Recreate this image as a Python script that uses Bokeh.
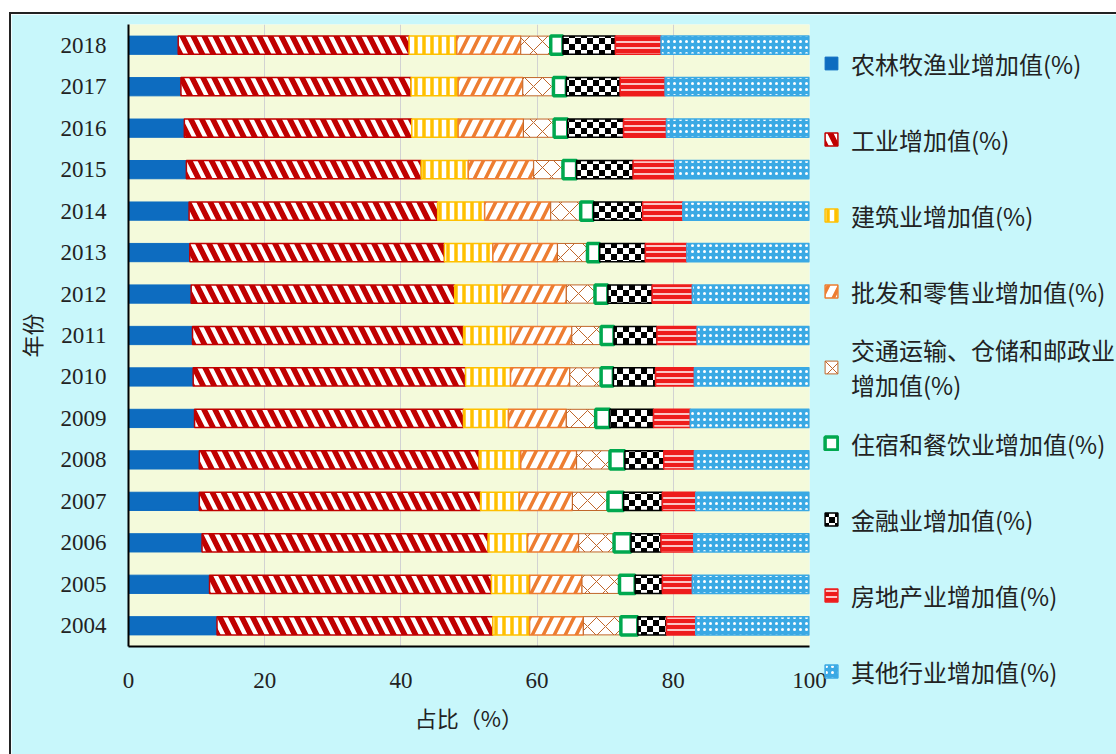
from bokeh.plotting import figure
from bokeh.models import (ColumnDataSource, FactorRange, Range1d, Legend, LegendItem,
                          CanvasTexture, FixedTicker)
from bokeh.core.properties import value
from bokeh.transform import stack
from bokeh.embed import file_html
from bokeh.resources import INLINE

# ---- data: share of value added by sector (%), 2004-2018 ----
years = [str(y) for y in range(2004, 2019)]

agri = [13.0, 11.9, 10.8, 10.4, 10.4, 9.7, 9.5, 9.4, 9.2, 9.0, 8.9, 8.5, 8.2, 7.7, 7.3]
industry = [40.5, 41.4, 42.0, 41.3, 41.1, 39.5, 40.0, 39.8, 38.7, 37.4, 36.5, 34.5, 33.4, 33.8, 33.9]
construction = [5.4, 5.6, 5.8, 5.7, 6.1, 6.6, 6.6, 6.9, 7.0, 7.1, 6.9, 6.9, 6.8, 6.9, 7.0]
trade = [7.9, 7.7, 7.5, 7.8, 8.2, 8.5, 8.7, 9.0, 9.4, 9.5, 9.7, 9.6, 9.6, 9.5, 9.4]
transport = [5.5, 5.5, 5.2, 5.2, 4.9, 4.3, 4.6, 4.3, 4.2, 4.4, 4.4, 4.3, 4.5, 4.5, 4.4]
hotel = [2.5, 2.3, 2.5, 2.3, 2.2, 2.1, 1.8, 1.9, 1.9, 1.8, 1.9, 2.0, 2.0, 1.9, 1.8]
finance = [4.2, 4.0, 4.4, 5.7, 5.7, 6.4, 6.2, 6.3, 6.5, 6.7, 7.2, 8.3, 8.2, 7.9, 7.7]
realestate = [4.3, 4.4, 4.8, 4.9, 4.5, 5.4, 5.7, 5.9, 5.9, 6.1, 5.9, 6.1, 6.3, 6.6, 6.7]
others = [16.7, 17.2, 17.0, 16.7, 16.9, 17.5, 16.9, 16.5, 17.2, 18.0, 18.6, 19.8, 21.0, 21.2, 21.8]

series_keys = ["agri", "industry", "construction", "trade", "transport",
               "hotel", "finance", "realestate", "others"]
series_labels = ["农林牧渔业增加值(%)", "工业增加值(%)", "建筑业增加值(%)",
                 "批发和零售业增加值(%)", "交通运输、仓储和邮政业\n增加值(%)",
                 "住宿和餐饮业增加值(%)", "金融业增加值(%)",
                 "房地产业增加值(%)", "其他行业增加值(%)"]

source = ColumnDataSource(dict(year=years, agri=agri, industry=industry,
                               construction=construction, trade=trade,
                               transport=transport, hotel=hotel, finance=finance,
                               realestate=realestate, others=others))

# white squares over a black fill give the checkerboard of the finance segment
checker = CanvasTexture(code="""
const c = ctx.canvas;
c.width = 12;
c.height = 12;
ctx.fillStyle = "white";
ctx.fillRect(6, 0, 6, 6);
ctx.fillRect(0, 6, 6, 6);
""")

styles = [
    dict(fill_color="#0d6cc0", line_color="#0d6cc0", line_width=1),
    dict(fill_color="white", line_color="#c00000", line_width=1.5,
         hatch_pattern="left_diagonal_line", hatch_color="#c00000", hatch_weight=5.5, hatch_scale=22),
    dict(fill_color="white", line_color="#ffc000", line_width=1.5,
         hatch_pattern="vertical_line", hatch_color="#ffc000", hatch_weight=3.5, hatch_scale=8),
    dict(fill_color="white", line_color="#ed7d31", line_width=1.5,
         hatch_pattern="right_diagonal_line", hatch_color="#ed7d31", hatch_weight=3.5, hatch_scale=22),
    dict(fill_color="white", line_color="#c0662a", line_width=1,
         hatch_pattern="diagonal_cross", hatch_color="#c0662a", hatch_weight=1, hatch_scale=18),
    dict(fill_color="white", line_color="#00a84f", line_width=3.5),
    dict(fill_color="black", line_color="black", line_width=1.5,
         hatch_pattern=value("chk"), hatch_extra={"chk": checker}, hatch_scale=12),
    dict(fill_color="#ee1c1c", line_color="#ee1c1c", line_width=1.5,
         hatch_pattern="horizontal_line", hatch_color="white", hatch_weight=1.5, hatch_scale=6),
    dict(fill_color="#3aa9e4", line_color="#3aa9e4", line_width=1.5,
         hatch_pattern="dot", hatch_color="white", hatch_weight=3, hatch_scale=6),
]

# fixed plot frame; the canvas sits inside a white page margin, outlined like a printed panel
p = figure(frame_width=681, frame_height=622, margin=(14, 0, 0, 11),
           styles={"outline": "2px solid #222222", "max-width": "1105px",
                   "max-height": "740px", "overflow": "hidden"},
           x_range=Range1d(0, 100), y_range=FactorRange(factors=years),
           output_backend="svg", toolbar_location=None,
           min_border_left=116, min_border_right=308,
           min_border_top=10, min_border_bottom=108)

p.background_fill_color = "#f4fadb"
p.border_fill_color = "#c8f7fb"
p.outline_line_color = None

renderers = []
for i, key in enumerate(series_keys):
    r = p.hbar(y="year", left=stack(*series_keys[:i]), right=stack(*series_keys[:i + 1]),
               height=0.44, source=source, **styles[i])
    renderers.append(r)

# axes
p.xaxis.ticker = FixedTicker(ticks=[0, 20, 40, 60, 80, 100])
for ax in (p.xaxis[0], p.yaxis[0]):
    ax.major_tick_line_color = None
    ax.minor_tick_line_color = None
    ax.axis_line_color = "black"
    ax.axis_line_width = 2
    ax.major_label_text_font = "Liberation Serif"
    ax.major_label_text_font_size = "23px"
    ax.major_label_text_color = "#222222"
    ax.axis_label_text_font = "Noto Sans CJK SC"
    ax.axis_label_text_font_size = "22px"
    ax.axis_label_text_font_style = "normal"
    ax.axis_label_text_color = "#222222"

p.xaxis.major_label_standoff = 20
p.xaxis.axis_label = "占比（%）"
p.xaxis.axis_label_standoff = 10
p.yaxis.major_label_standoff = 16
p.yaxis.axis_label = "年份"
p.yaxis.axis_label_standoff = 11

p.ygrid.grid_line_color = None
p.xgrid.grid_line_color = "#d2d2d2"
p.xgrid.grid_line_width = 1

# legend column in the right-hand panel
ITEM_H = 74
SPACING = 2
FRAME_BOTTOM = 646          # page y of the frame bottom
first_centre = 63
legend_h = 9 * ITEM_H + 8 * SPACING
legend_top = first_centre - ITEM_H / 2

items = [LegendItem(label=series_labels[i], renderers=[renderers[i]]) for i in range(9)]
legend = Legend(items=items, location=(14, FRAME_BOTTOM - (legend_top + legend_h)),
                orientation="vertical",
                glyph_width=16, glyph_height=16, label_height=ITEM_H,
                spacing=SPACING, padding=0, margin=0, label_standoff=12,
                background_fill_alpha=0, border_line_color=None,
                label_text_font="Noto Sans CJK SC", label_text_font_size="24px",
                label_text_line_height=1.0,
                label_text_color="#222222")
p.add_layout(legend, "right")

open("out.html", "w").write(file_html(p, INLINE))
